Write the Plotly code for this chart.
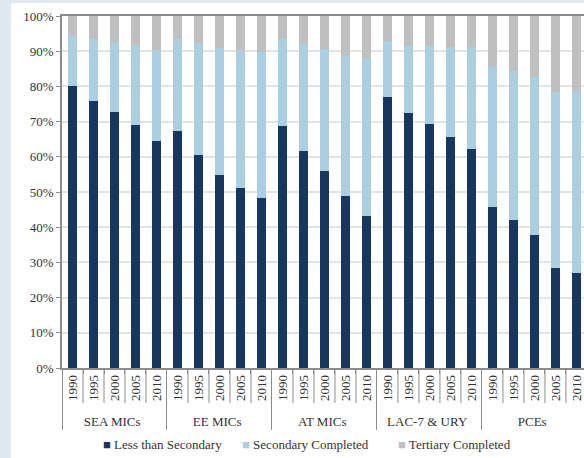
import plotly.graph_objects as go

groups = ["SEA MICs", "EE MICs", "AT MICs", "LAC-7 & URY", "PCEs"]
years = ["1990", "1995", "2000", "2005", "2010"]
series_names = ["Less than Secondary", "Secondary Completed", "Tertiary Completed"]

less_than_secondary = [80.1, 75.9, 72.7, 69.0, 64.6,
                       67.4, 60.6, 54.7, 51.1, 48.4,
                       68.7, 61.6, 56.1, 49.0, 43.1,
                       76.9, 72.4, 69.3, 65.7, 62.2,
                       45.8, 42.0, 37.7, 28.5, 27.1]
secondary_completed = [14.2, 17.5, 19.8, 22.7, 25.8,
                       26.0, 31.6, 36.1, 39.2, 41.5,
                       24.7, 30.8, 34.4, 39.5, 44.9,
                       16.1, 19.1, 22.1, 25.6, 29.0,
                       39.6, 42.3, 44.9, 49.9, 51.5]
tertiary_completed = [5.7, 6.6, 7.5, 8.3, 9.6,
                      6.6, 7.8, 9.2, 9.7, 10.1,
                      6.6, 7.6, 9.5, 11.5, 12.0,
                      7.0, 8.5, 8.6, 8.7, 8.8,
                      14.6, 15.7, 17.4, 21.6, 21.4]

colors = ["#17375e", "#abcee0", "#bfbfbf"]

x_outer = [g for g in groups for _ in years]
x_inner = [y for _ in groups for y in years]
x = [x_outer, x_inner]

FONT = "Liberation Serif"
TXT = "#333333"
AXC = "#8c8c8c"

fig = go.Figure()
for name, vals, col in zip(series_names,
                           [less_than_secondary, secondary_completed, tertiary_completed],
                           colors):
    fig.add_trace(go.Bar(x=x, y=vals, name=name, marker=dict(color=col, line=dict(width=0))))

W, H = 584, 458
L, R, T, B = 62, 0, 16, 90
pw = W - L - R
ph = H - T - B

def px_to_paper_x(p):
    return (p - L) / pw

def px_to_paper_y(p):
    return (H - B - p) / ph

# white chart panel on light-blue page
fig.add_shape(type="rect", xref="paper", yref="paper", layer="below",
              x0=px_to_paper_x(11), x1=px_to_paper_x(W + 5),
              y0=px_to_paper_y(H + 5), y1=px_to_paper_y(3),
              fillcolor="white", line=dict(width=0))

# separators between year labels
n = len(x_inner)
for i in range(n - 1):
    if (i + 1) % len(years) == 0:
        continue
    fig.add_shape(type="line", xref="x", yref="paper",
                  x0=i + 0.5, x1=i + 0.5,
                  y0=0, y1=px_to_paper_y(403),
                  line=dict(color=AXC, width=1))

# custom legend
legend_x = [101, 240, 396]
for name, col, lx in zip(series_names, colors, legend_x):
    fig.add_annotation(xref="paper", yref="paper", x=px_to_paper_x(lx), y=px_to_paper_y(444),
                       xanchor="left", yanchor="middle", showarrow=False,
                       text=f"<span style='color:{col}'>■</span> {name}",
                       font=dict(family=FONT, size=13, color=TXT))

fig.update_layout(
    width=W, height=H,
    margin=dict(l=L, r=R, t=T, b=B, pad=0),
    barmode="stack",
    bargap=0.57,
    paper_bgcolor="#dfe9f1",
    plot_bgcolor="white",
    font=dict(family=FONT, size=13, color=TXT),
    showlegend=False,
)
fig.update_xaxes(
    type="multicategory",
    range=[-0.5, 24.36],
    showline=True, linecolor=AXC, linewidth=1.5, mirror=True,
    ticks="outside", tickcolor=AXC, ticklen=4,
    tickangle=-90,
    tickfont=dict(family=FONT, size=13, color=TXT),
    dividercolor=AXC, dividerwidth=1,
    showgrid=False,
)
fig.update_yaxes(
    range=[0, 100], dtick=10, ticksuffix="%",
    showline=True, linecolor=AXC, linewidth=1.5,
    ticks="outside", tickcolor=AXC, ticklen=4,
    gridcolor="#e3e3e3", gridwidth=1.5,
    tickfont=dict(family=FONT, size=13, color=TXT),
    zeroline=False,
)

fig.write_html("out.html", config={"displayModeBar": False},
               post_script="document.body.style.margin='0px';document.body.style.overflow='hidden';")
